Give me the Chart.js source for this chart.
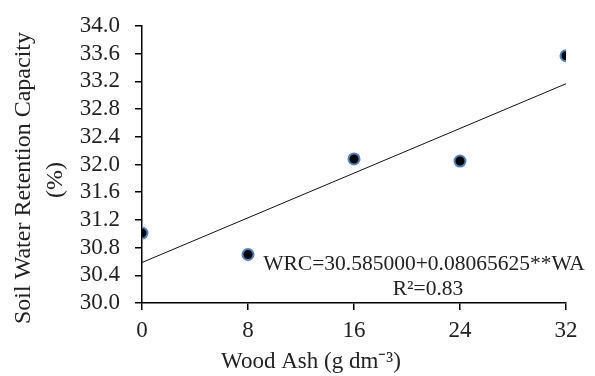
<!DOCTYPE html>
<html>
<head>
<meta charset="utf-8">
<script src="https://cdn.jsdelivr.net/npm/chart.js@4"></script>
<style>
  html, body { margin: 0; padding: 0; background: #fff; }
  #wrap { width: 595px; height: 376px; }
</style>
</head>
<body>
<div id="wrap"><canvas id="wrc" width="595" height="376"></canvas></div>
<script>
// wood ash doses and measured water retention capacity
let woodAsh = [0, 8, 16, 24, 32];
let wrcValues = [31.01, 30.70, 32.08, 32.05, 33.57];
// fitted line end points
let fitX = [0, 32];
let fitY = [30.585, 33.166];
let yTicks = [30.0, 30.4, 30.8, 31.2, 31.6, 32.0, 32.4, 32.8, 33.2, 33.6, 34.0];
let xTicks = [0, 8, 16, 24, 32];

const serif = "'Liberation Serif', 'Times New Roman', serif";

function toPoints(xs, ys){
    return xs.map((x, i) => ({x: x, y: ys[i]}));
}

// extra texts: equation and both axis titles
const textPlugin = {
    id: 'texts',
    afterDraw(chart){
        const ctx = chart.ctx;
        ctx.save();
        ctx.fillStyle = '#222';
        ctx.textAlign = 'center';
        ctx.textBaseline = 'middle';
        ctx.font = '21.5px ' + serif;
        ctx.fillText('WRC=30.585000+0.08065625**WA', 424, 264);
        ctx.fillText('R\u00b2=0.83', 428, 289);
        ctx.font = '23px ' + serif;
        ctx.fillText('Wood Ash (g dm\u207b\u00b3)', 311, 362);
        // y title, rotated
        ctx.font = '24px ' + serif;
        ctx.save();
        ctx.translate(24, 178);
        ctx.rotate(-Math.PI / 2);
        ctx.fillText('Soil Water Retention Capacity', 0, 0);
        ctx.restore();
        ctx.save();
        ctx.translate(56, 180);
        ctx.rotate(-Math.PI / 2);
        ctx.fillText('(%)', 0, 0);
        ctx.restore();
        ctx.restore();
    }
};

const ctx = document.getElementById('wrc').getContext('2d');
const chart = new Chart(ctx, {
    type: 'scatter',
    data: {
        datasets: [{
            label: 'WRC',
            data: toPoints(woodAsh, wrcValues),
            backgroundColor: '#000',
            borderColor: '#4f81bd',
            borderWidth: 2,
            pointRadius: 5.5
        }, {
            label: 'fit',
            type: 'line',
            data: toPoints(fitX, fitY),
            borderColor: '#111',
            borderWidth: 1,
            pointRadius: 0,
            fill: false
        }]
    },
    options: {
        responsive: false,
        animation: false,
        layout: { padding: { top: 26, right: 29, bottom: 0, left: 0 } },
        plugins: {
            legend: { display: false },
            tooltip: { enabled: false }
        },
        scales: {
            x: {
                type: 'linear',
                min: 0,
                max: 32,
                afterBuildTicks: (s) => { s.ticks = xTicks.map(v => ({value: v})); },
                afterFit: (s) => { s.height = 73; s.paddingLeft = 0; s.paddingRight = 0; },
                ticks: {
                    color: '#222',
                    font: { family: serif, size: 23 },
                    padding: 7,
                    autoSkip: false,
                    maxRotation: 0
                },
                grid: { drawOnChartArea: false, drawTicks: true, tickLength: 7, color: '#000', lineWidth: 1.5 },
                border: { color: '#000', width: 1.5 }
            },
            y: {
                min: 30,
                max: 34,
                afterBuildTicks: (s) => { s.ticks = yTicks.map(v => ({value: v})); },
                afterFit: (s) => { s.width = 142; s.paddingTop = 0; s.paddingBottom = 0; },
                ticks: {
                    color: '#222',
                    font: { family: serif, size: 23 },
                    padding: 15,
                    autoSkip: false,
                    callback: (v) => Number(v).toFixed(1)
                },
                grid: { drawOnChartArea: false, drawTicks: true, tickLength: 7, color: '#000', lineWidth: 1.5 },
                border: { color: '#000', width: 1.5 }
            }
        }
    },
    plugins: [textPlugin]
});
</script>
</body>
</html>
